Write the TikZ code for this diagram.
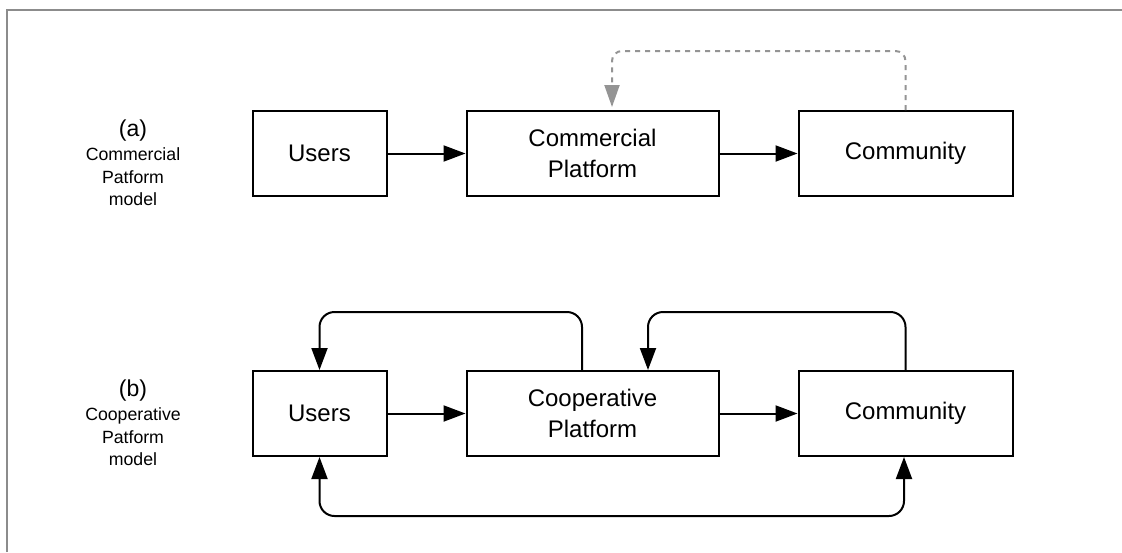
\documentclass[tikz,border=0pt]{standalone}
\usepackage{fontspec}
\setmainfont{Liberation Sans}
\usetikzlibrary{arrows.meta}
\begin{document}
\begin{tikzpicture}[x=1pt,y=-1pt,
  box/.style={draw=black,line width=2pt,minimum width=134pt,minimum height=85pt,inner sep=0pt,align=center,
    font=\fontsize{24pt}{30.5pt}\selectfont},
  arr/.style={line width=2pt,-{Triangle[length=22pt,width=16pt]}},
  loop/.style={line width=2pt,rounded corners=15pt,-{Triangle[length=22pt,width=16pt]}},
  dloop/.style={line width=2pt,rounded corners=15pt,{Triangle[length=22pt,width=16pt]}-{Triangle[length=22pt,width=16pt]}},
  dasharr/.style={line width=2pt,black!42,dash pattern=on 5pt off 5pt,rounded corners=10pt,
    -{Triangle[length=22pt,width=15pt]},shorten >=3pt},
  tag/.style={inner sep=0pt,font=\fontsize{23pt}{27pt}\selectfont},
  lbl/.style={inner sep=0pt,align=center,font=\fontsize{17.7pt}{22.5pt}\selectfont}]
\useasboundingbox (0,0) rectangle (1122,552);
\fill[white] (0,0) rectangle (1122,552);
\draw[black!45,line width=1.3pt] (7,552) -- (7,10) -- (1122,10);

% row (a)
\node[tag,anchor=base] (ta) at (133,136) {(a)};
\node[lbl] (la) at (133,177) {Commercial\\Patform\\model};
\node[box] (u1) at (319.5,153.5) {Users};
\node[box,minimum width=252pt] (cp1) at (592.5,153.5) {Commercial\\Platform};
\node[box,minimum width=214pt] (cm1) at (905.5,153.5) {Community};
\draw[arr] (u1) -- (cp1);
\draw[arr] (cp1) -- (cm1);
\draw[dasharr] (cm1.north) -- ++(0,-59) -| ([xshift=19.5pt]cp1.north);

% row (b)
\node[tag,anchor=base] (tb) at (133,396) {(b)};
\node[lbl] (lb) at (133,437) {Cooperative\\Patform\\model};
\node[box] (u2) at (319.5,413.5) {Users};
\node[box,minimum width=252pt] (cp2) at (592.5,413.5) {Cooperative\\Platform};
\node[box,minimum width=214pt] (cm2) at (905.5,413.5) {Community};
\draw[arr] (u2) -- (cp2);
\draw[arr] (cp2) -- (cm2);
\draw[loop] ([xshift=-10.5pt]cp2.north) -- ++(0,-58) -| (u2.north);
\draw[loop] (cm2.north) -- ++(0,-58) -| ([xshift=55.5pt]cp2.north);
\draw[dloop] (u2.south) -- ++(0,59) -| ([xshift=-1.5pt]cm2.south);
\end{tikzpicture}
\end{document}
